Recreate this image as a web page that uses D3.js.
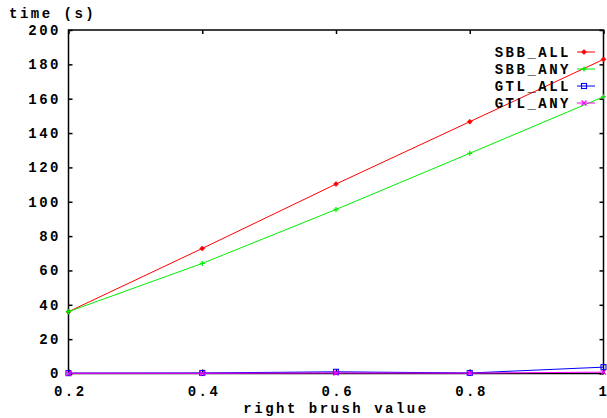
<!DOCTYPE html>
<html>
<head>
<meta charset="utf-8">
<script src="https://cdn.jsdelivr.net/npm/d3@7"></script>
<style>
  html, body { margin: 0; padding: 0; background: #fff; }
  svg { display: block; }
  text { font-family: "Liberation Mono", "DejaVu Sans Mono", monospace; font-weight: bold; font-size: 14px; letter-spacing: 2.5px; fill: #000; }
</style>
</head>
<body>
<script>
// Brush value on the x axis, run times in seconds for each method
const brushValues = [0.2, 0.4, 0.6, 0.8, 1.0];
const sbbAll = [36, 72.8, 110.3, 146.6, 182.9];
const sbbAny = [36, 64.1, 95.5, 128.2, 161.1];
const gtlAll = [0.2, 0.3, 1.0, 0.3, 3.7];
const gtlAny = [0.1, 0.1, 0.3, 0.2, 0.8];
const seriesNames = ["SBB_ALL", "SBB_ANY", "GTL_ALL", "GTL_ANY"];
const xTickValues = [0.2, 0.4, 0.6, 0.8, 1.0];
const xTickLabels = ["0.2", "0.4", "0.6", "0.8", "1"];
const yTickValues = [0, 20, 40, 60, 80, 100, 120, 140, 160, 180, 200];

const W = 607, H = 418;
const plotLeft = 68.5, plotRight = 603.5, plotTop = 30, plotBottom = 373.5;

const svg = d3.select("body").append("svg").attr("width", W).attr("height", H);

const x = d3.scaleLinear().domain([0.2, 1.0]).range([plotLeft, plotRight]);
const y = d3.scaleLinear().domain([0, 200]).range([plotBottom, plotTop]);

const tickLen = 4;

// Left axis: inward ticks and labels
const yAxisL = d3.axisLeft(y).tickValues(yTickValues).tickSize(-tickLen).tickPadding(10);
const gL = svg.append("g").attr("transform", `translate(${plotLeft},0)`).call(yAxisL);
// Right mirror ticks
const yAxisR = d3.axisRight(y).tickValues(yTickValues).tickSize(-tickLen).tickFormat("");
const gR = svg.append("g").attr("transform", `translate(${plotRight},0)`).call(yAxisR);
// Bottom axis with labels, top mirror ticks
const xAxisB = d3.axisBottom(x).tickValues(xTickValues).tickSize(-tickLen).tickPadding(13)
  .tickFormat((d, i) => xTickLabels[i]);
const gB = svg.append("g").attr("transform", `translate(0,${plotBottom})`).call(xAxisB);
const xAxisT = d3.axisTop(x).tickValues(xTickValues).tickSize(-tickLen).tickFormat("");
const gT = svg.append("g").attr("transform", `translate(0,${plotTop})`).call(xAxisT);

[gL, gR, gB, gT].forEach(g => {
  g.attr("font-family", null).attr("font-size", null);
  g.select(".domain").remove();
  g.selectAll(".tick line").attr("stroke", "#000").attr("stroke-width", 1.5);
  g.selectAll("text").attr("fill", "#000");
});
gL.selectAll("text").attr("dx", "2.5px");
gB.selectAll("text").attr("dx", "1.25px");
// The last x label sits against the window edge
gB.selectAll(".tick text").filter((d, i) => i === xTickValues.length - 1)
  .attr("text-anchor", "end").attr("dx", "3px").style("letter-spacing", "0px");

// Frame
svg.append("rect").attr("x", plotLeft).attr("y", plotTop)
  .attr("width", plotRight - plotLeft).attr("height", plotBottom - plotTop)
  .attr("fill", "none").attr("stroke", "#000").attr("stroke-width", 1.5);

// Axis titles
svg.append("text").attr("x", 9).attr("y", 18).text("time (s)");
svg.append("text").attr("x", 336).attr("y", 413).attr("text-anchor", "middle").text("right brush value");

// Series
const series = [
  { name: seriesNames[0], values: sbbAll, color: "#ff0000", marker: "diamond" },
  { name: seriesNames[1], values: sbbAny, color: "#00ee00", marker: "plus" },
  { name: seriesNames[2], values: gtlAll, color: "#0000ff", marker: "box" },
  { name: seriesNames[3], values: gtlAny, color: "#ff00ff", marker: "cross" }
];

const line = d3.line().x(d => x(d[0])).y(d => y(d[1]));

function drawMarker(g, type, cx, cy, color) {
  const s = 2.5;
  if (type === "diamond") {
    g.append("path").attr("d", `M${cx - s},${cy} L${cx},${cy - s} L${cx + s},${cy} L${cx},${cy + s} Z`)
      .attr("fill", color).attr("stroke", color).attr("stroke-width", 0.6);
  } else if (type === "plus") {
    g.append("path").attr("d", `M${cx - s},${cy} H${cx + s} M${cx},${cy - s} V${cy + s}`)
      .attr("stroke", color).attr("stroke-width", 1.3).attr("fill", "none");
  } else if (type === "box") {
    g.append("rect").attr("x", cx - 2.5).attr("y", cy - 2.5).attr("width", 5).attr("height", 5)
      .attr("stroke", color).attr("stroke-width", 1.1).attr("fill", "none");
  } else {
    g.append("path").attr("d", `M${cx - s},${cy - s} L${cx + s},${cy + s} M${cx - s},${cy + s} L${cx + s},${cy - s}`)
      .attr("stroke", color).attr("stroke-width", 1.2).attr("fill", "none");
  }
}

const plot = svg.append("g");
series.forEach(s => {
  const pts = brushValues.map((b, i) => [b, s.values[i]]);
  plot.append("path").attr("d", line(pts)).attr("fill", "none")
    .attr("stroke", s.color).attr("stroke-width", 1);
  pts.forEach(p => drawMarker(plot, s.marker, x(p[0]), y(p[1]), s.color));
});

// Legend
const legend = svg.append("g");
series.forEach((s, i) => {
  const ly = 52 + i * 17;
  legend.append("text").attr("x", 571).attr("y", ly).attr("dy", "0.35em")
    .attr("text-anchor", "end").text(s.name);
  legend.append("line").attr("x1", 577).attr("x2", 595).attr("y1", ly).attr("y2", ly)
    .attr("stroke", s.color).attr("stroke-width", 1);
  drawMarker(legend, s.marker, 584, ly, s.color);
});
</script>
</body>
</html>
